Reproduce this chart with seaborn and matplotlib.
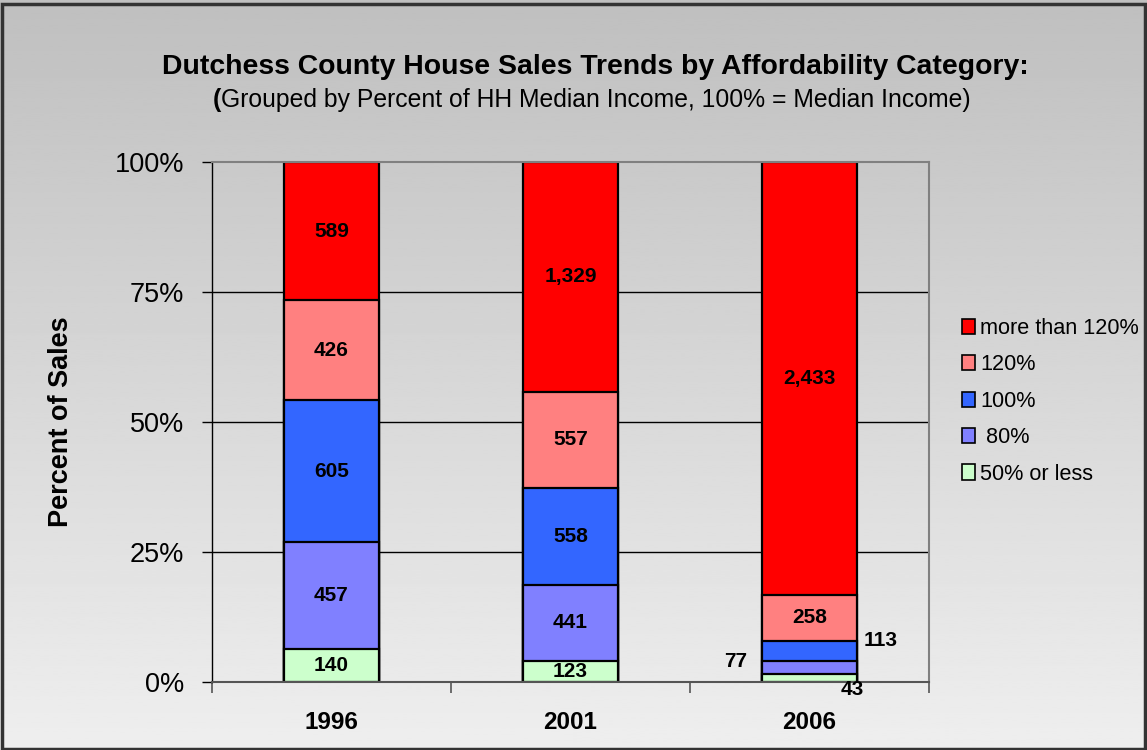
import numpy as np
import pandas as pd
import matplotlib
matplotlib.use("Agg")
import matplotlib.pyplot as plt
import seaborn as sns
from matplotlib.patches import Rectangle, Patch

years = ["1996", "2001", "2006"]
categories = ["50% or less", " 80%", "100%", "120%", "more than 120%"]
counts_50 = [140, 123, 43]
counts_80 = [457, 441, 77]
counts_100 = [605, 558, 113]
counts_120 = [426, 557, 258]
counts_more = [589, 1329, 2433]
colors = ["#CCFFCC", "#8080FF", "#3366FF", "#FF8080", "#FF0000"]
ytick_labels = ["0%", "25%", "50%", "75%", "100%"]

layers = [counts_50, counts_80, counts_100, counts_120, counts_more]
counts = np.array(layers, dtype=float)
totals = counts.sum(axis=0)
pct = counts / totals * 100
cum = np.cumsum(pct, axis=0)

sns.set_theme(style="white")
plt.rcParams["font.family"] = ["Liberation Sans", "DejaVu Sans"]
plt.rcParams["text.color"] = "black"
plt.rcParams["axes.labelcolor"] = "black"
plt.rcParams["xtick.color"] = "black"
plt.rcParams["ytick.color"] = "black"

fig = plt.figure(figsize=(11.47, 7.5), dpi=100)

# gradient background
bg = fig.add_axes([0, 0, 1, 1], zorder=-10)
grad = np.linspace(0.75, 0.935, 256).reshape(-1, 1)
bg.imshow(grad, aspect="auto", cmap="gray", vmin=0, vmax=1, extent=[0, 1, 0, 1], origin="upper")
bg.set_axis_off()
fig.patches.append(Rectangle((0.002, 0.002), 0.996, 0.993, transform=fig.transFigure,
                             fill=False, edgecolor="#333333", linewidth=2.5, zorder=100))

ax = fig.add_axes([212 / 1147, 1 - 682 / 750, (929 - 212) / 1147, (682 - 162) / 750])
ax.set_facecolor("none")

# gridlines
for v in [25, 50, 75]:
    ax.axhline(v, color="black", linewidth=1.0, zorder=0.5)

# stacked bars: draw cumulative from top down
for i in range(len(categories) - 1, -1, -1):
    df = pd.DataFrame({"year": years, "value": cum[i]})
    sns.barplot(data=df, x="year", y="value", color=colors[i], saturation=1,
                width=0.4, edgecolor="black", linewidth=1.6, ax=ax, zorder=2)

# labels (offsets in points for the thin 2006 segments)
special = {(1, 2): (-53, 4), (2, 2): (51, 7), (0, 2): (31, -8.5)}
for i in range(len(categories)):
    for j in range(len(years)):
        y0 = cum[i][j] - pct[i][j]
        yc = y0 + pct[i][j] / 2
        txt = f"{int(counts[i][j]):,}"
        dx, dy = special.get((i, j), (0, 0))
        ax.annotate(txt, (j, yc), xytext=(dx, dy), textcoords="offset points",
                    ha="center", va="center", fontsize=15, fontweight="bold",
                    color="black", zorder=5, annotation_clip=False)

ax.set_xlim(-0.5, 2.5)
ax.set_ylim(0, 100)
ax.set_yticks([0, 25, 50, 75, 100])
ax.set_yticklabels(ytick_labels, fontsize=19.5)
ax.set_xticks([0, 1, 2])
ax.set_xticklabels(years, fontsize=17.5, fontweight="bold")
ax.set_xticks([-0.5, 0.5, 1.5, 2.5], minor=True)
ax.tick_params(axis="x", which="major", length=0, pad=21)
ax.tick_params(axis="x", which="minor", length=8, width=1.2, color="#555555", direction="out", bottom=True)
ax.tick_params(axis="y", which="major", length=7, width=1.0, color="black", direction="out", left=True, pad=13)
ax.set_xlabel("")
ax.set_ylabel("Percent of Sales", fontsize=19.5, fontweight="bold", labelpad=29)

for s in ["top", "right"]:
    ax.spines[s].set_color("#808080")
    ax.spines[s].set_linewidth(1.5)
ax.spines["left"].set_color("black")
ax.spines["left"].set_linewidth(1.0)
ax.spines["bottom"].set_color("#555555")
ax.spines["bottom"].set_linewidth(1.5)

# titles
fig.text(595 / 1147, 1 - 67 / 750, "Dutchess County House Sales Trends by Affordability Category:",
         ha="center", va="center", fontsize=20.4, fontweight="bold")
fig.text(213 / 1147, 1 - 100 / 750, "(", ha="left", va="center", fontsize=17.8, fontweight="bold")
fig.text(221 / 1147, 1 - 100 / 750, "Grouped by Percent of HH Median Income, 100% = Median Income)",
         ha="left", va="center", fontsize=17.8)

# legend
handles = [Patch(facecolor=colors[i], edgecolor="black", linewidth=1.2, label=categories[i])
           for i in range(len(categories) - 1, -1, -1)]
fig.legend(handles=handles, loc="upper left", bbox_to_anchor=(962 / 1147, 1 - 318 / 750),
           frameon=False, fontsize=15.6, handlelength=0.58, handleheight=0.7,
           handletextpad=0.25, labelspacing=0.71, borderaxespad=0, borderpad=0)

fig.savefig("out.png", dpi=100)
